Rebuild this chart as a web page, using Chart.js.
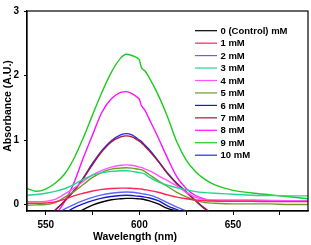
<!DOCTYPE html>
<html>
<head>
<meta charset="utf-8">
<script src="https://cdn.jsdelivr.net/npm/chart.js@4.4.0/dist/chart.umd.min.js"></script>
<style>
  html, body { margin: 0; padding: 0; background: #fff; }
  #wrap { width: 311px; height: 245px; }
</style>
</head>
<body>
<div id="wrap"><canvas id="myChart"></canvas></div>
<script>
// wavelengths (nm)
var wavelengths = [540,545,550,555,560,565,570,575,580,585,590,593,596,599,600,601,603,605,610,615,620,625,630,635,640,650,660,670,680,690]

// absorbance for each concentration
var mM0  = [-0.5,-0.5,-0.5,-0.45,-0.25,-0.17,-0.08,-0.01,0.04,0.075,0.09,0.095,0.095,0.09,0.088,0.085,0.075,0.06,0.01,-0.06,-0.1,-0.16,-0.25,-0.4,-0.5,-0.5,-0.5,-0.5,-0.5,-0.5]
var mM1  = [0.02,0.02,0.025,0.04,0.08,0.135,0.175,0.21,0.235,0.248,0.255,0.255,0.25,0.245,0.243,0.24,0.23,0.22,0.19,0.15,0.115,0.09,0.07,0.06,0.055,0.05,0.05,0.045,0.045,0.045]
var mM2  = [-0.5,-0.45,-0.35,-0.16,-0.07,0.0,0.06,0.11,0.15,0.175,0.19,0.195,0.19,0.18,0.175,0.17,0.16,0.15,0.1,0.03,-0.04,-0.1,-0.16,-0.2,-0.3,-0.4,-0.5,-0.5,-0.5,-0.5]
var mM3  = [0.145,0.155,0.175,0.205,0.245,0.31,0.39,0.455,0.495,0.515,0.525,0.525,0.515,0.5,0.495,0.49,0.47,0.43,0.35,0.3,0.26,0.23,0.2,0.185,0.175,0.16,0.145,0.14,0.135,0.135]
var mM4  = [0.045,0.045,0.05,0.08,0.16,0.25,0.36,0.46,0.53,0.58,0.61,0.615,0.61,0.59,0.58,0.575,0.55,0.53,0.45,0.37,0.29,0.19,0.11,0.08,0.07,0.07,0.07,0.065,0.06,0.06]
var mM5  = [-0.01,-0.005,0.0,0.03,0.11,0.2,0.31,0.42,0.5,0.55,0.565,0.57,0.565,0.55,0.545,0.54,0.51,0.47,0.37,0.28,0.19,0.12,0.06,0.03,0.02,0.01,0.01,0.01,0.0,0.0]
var mM6  = [-0.5,-0.5,-0.45,-0.3,-0.15,-0.05,0.01,0.06,0.1,0.125,0.14,0.145,0.14,0.13,0.128,0.125,0.115,0.105,0.06,-0.02,-0.08,-0.14,-0.2,-0.3,-0.4,-0.5,-0.5,-0.5,-0.5,-0.5]
var mM7  = [-0.5,-0.4,-0.25,-0.09,0.05,0.21,0.4,0.62,0.82,0.97,1.05,1.065,1.05,1.0,0.98,0.96,0.9,0.84,0.67,0.48,0.32,0.19,0.06,-0.06,-0.16,-0.3,-0.3,-0.3,-0.3,-0.3]
var mM8  = [-0.5,-0.45,-0.35,-0.17,0.04,0.33,0.72,1.08,1.43,1.64,1.74,1.75,1.72,1.66,1.63,1.54,1.46,1.34,1.04,0.72,0.43,0.25,0.14,0.085,0.06,0.05,0.05,0.05,0.05,0.05]
var mM9  = [0.25,0.205,0.24,0.33,0.47,0.71,1.03,1.39,1.74,2.05,2.27,2.33,2.31,2.27,2.24,2.13,2.07,1.98,1.7,1.36,0.97,0.69,0.51,0.39,0.31,0.22,0.18,0.15,0.12,0.09]
var mM10 = [-0.5,-0.4,-0.25,-0.09,0.05,0.21,0.41,0.64,0.84,0.99,1.08,1.1,1.08,1.02,1.0,0.98,0.92,0.86,0.68,0.49,0.33,0.2,0.06,-0.07,-0.17,-0.3,-0.3,-0.3,-0.3,-0.3]

var labels = ['0 (Control) mM','1 mM','2 mM','3 mM','4 mM','5 mM','6 mM','7 mM','8 mM','9 mM','10 mM']
var series = [mM0,mM1,mM2,mM3,mM4,mM5,mM6,mM7,mM8,mM9,mM10]
var colors = ['#000000','#ff2255','#6060ff','#22d68c','#ff55ff','#6f9a2a','#1a1acc','#a81830','#ff10ff','#1ccc1c','#2a2aee']
var yTicks = [0,1,2,3]
var xTickLabels = [550,600,650]

var fontFam = '"Liberation Sans", Arial, sans-serif'

var datasets = series.map(function(s, i){
    return {
        label: labels[i],
        data: s.map(function(v, j){ return {x: wavelengths[j], y: v} }),
        borderColor: colors[i],
        backgroundColor: colors[i],
        borderWidth: 1.4,
        pointRadius: 0,
        cubicInterpolationMode: 'monotone',
        fill: false
    }
})

// frame, legend and axis titles
var extras = {
    id: 'extras',
    afterDraw: function(chart){
        var ctx = chart.ctx
        var a = chart.chartArea
        ctx.save()
        ctx.strokeStyle = '#000'
        ctx.lineWidth = 1.2
        ctx.strokeRect(a.left, a.top, a.right - a.left, a.bottom - a.top)

        ctx.font = 'bold 9.5px ' + fontFam
        ctx.textBaseline = 'middle'
        ctx.textAlign = 'left'
        chart.data.datasets.forEach(function(ds, i){
            var y = 30.7 + i * 12.45
            ctx.strokeStyle = ds.borderColor
            ctx.lineWidth = 1.2
            ctx.beginPath()
            ctx.moveTo(195, y)
            ctx.lineTo(217, y)
            ctx.stroke()
            ctx.fillStyle = '#000'
            ctx.fillText(ds.label, 220.5, y + 0.5)
        })

        ctx.font = 'bold 10.5px ' + fontFam
        ctx.textAlign = 'center'
        ctx.fillText('Wavelength (nm)', 135, 237.5)
        ctx.translate(8, 106)
        ctx.rotate(-Math.PI / 2)
        ctx.fillText('Absorbance (A.U.)', 0, 0)
        ctx.restore()
    }
}

new Chart(document.getElementById('myChart'), {
    type: 'line',
    data: { datasets: datasets },
    options: {
        responsive: true,
        maintainAspectRatio: false,
        animation: false,
        layout: { padding: { top: 5, right: 3, left: 0, bottom: 0 } },
        plugins: { legend: { display: false }, tooltip: { enabled: false } },
        scales: {
            x: {
                type: 'linear',
                min: 540,
                max: 690,
                afterFit: function(s){ s.height = 34 },
                afterBuildTicks: function(s){
                    s.ticks = [550,575,600,625,650,675].map(function(v){ return {value: v} })
                },
                ticks: {
                    color: '#000',
                    padding: 4,
                    maxRotation: 0,
                    autoSkip: false,
                    font: { family: fontFam, size: 10, weight: 'bold' },
                    callback: function(v){ return xTickLabels.indexOf(v) >= 0 ? String(v) : '' }
                },
                grid: { drawOnChartArea: false, color: '#000', tickLength: 4, lineWidth: 1 },
                border: { color: '#000', width: 1.2 }
            },
            y: {
                min: -0.1,
                max: 3,
                afterFit: function(s){ s.width = 27 },
                afterBuildTicks: function(s){
                    s.ticks = yTicks.map(function(v){ return {value: v} })
                },
                ticks: {
                    color: '#000',
                    padding: 5,
                    font: { family: fontFam, size: 10, weight: 'bold' }
                },
                grid: { drawOnChartArea: false, color: '#000', tickLength: 3, lineWidth: 1 },
                border: { color: '#000', width: 1.2 }
            }
        }
    },
    plugins: [extras]
})
</script>
</body>
</html>
